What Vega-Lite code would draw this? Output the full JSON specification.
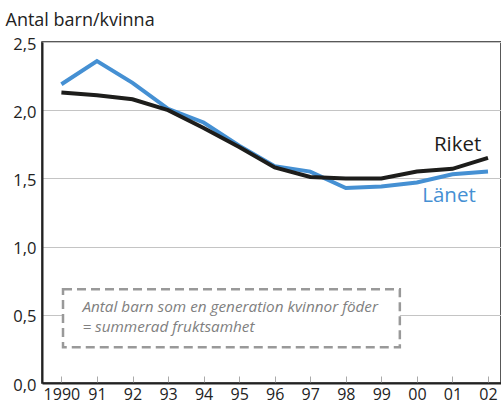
{
  "$schema": "https://vega.github.io/schema/vega-lite/v6.json",
  "width": 459,
  "height": 341,
  "autosize": {"type": "none"},
  "padding": {"left": 42, "top": 42, "right": 0, "bottom": 25},
  "background": "white",
  "config": {
    "font": "Open Sans",
    "view": {"stroke": "#222222", "strokeWidth": 1.5}
  },
  "datasets": {
    "series": [
      {"year": 1990, "region": "Länet", "value": 2.19},
      {"year": 1991, "region": "Länet", "value": 2.36},
      {"year": 1992, "region": "Länet", "value": 2.20},
      {"year": 1993, "region": "Länet", "value": 2.01},
      {"year": 1994, "region": "Länet", "value": 1.91},
      {"year": 1995, "region": "Länet", "value": 1.74},
      {"year": 1996, "region": "Länet", "value": 1.59},
      {"year": 1997, "region": "Länet", "value": 1.55},
      {"year": 1998, "region": "Länet", "value": 1.43},
      {"year": 1999, "region": "Länet", "value": 1.44},
      {"year": 2000, "region": "Länet", "value": 1.47},
      {"year": 2001, "region": "Länet", "value": 1.53},
      {"year": 2002, "region": "Länet", "value": 1.55},
      {"year": 1990, "region": "Riket", "value": 2.13},
      {"year": 1991, "region": "Riket", "value": 2.11},
      {"year": 1992, "region": "Riket", "value": 2.08},
      {"year": 1993, "region": "Riket", "value": 2.00},
      {"year": 1994, "region": "Riket", "value": 1.87},
      {"year": 1995, "region": "Riket", "value": 1.73},
      {"year": 1996, "region": "Riket", "value": 1.58},
      {"year": 1997, "region": "Riket", "value": 1.51},
      {"year": 1998, "region": "Riket", "value": 1.50},
      {"year": 1999, "region": "Riket", "value": 1.50},
      {"year": 2000, "region": "Riket", "value": 1.55},
      {"year": 2001, "region": "Riket", "value": 1.57},
      {"year": 2002, "region": "Riket", "value": 1.65}
    ],
    "box": [
      {"year": 1990.045, "year2": 1999.52, "value": 0.262, "value2": 0.688}
    ],
    "labels": [
      {"region": "Riket", "year": 2000.48, "value": 1.703},
      {"region": "Länet", "year": 2000.15, "value": 1.329}
    ],
    "note": [
      {"year": 1990.59, "value": 0.517, "text": "Antal barn som en generation kvinnor föder"},
      {"year": 1990.59, "value": 0.374, "text": "= summerad fruktsamhet"}
    ]
  },
  "encoding": {
    "x": {"field": "year", "type": "quantitative", "scale": {"domain": [1989.454, 2002.366], "nice": false, "zero": false},
      "axis": {
        "values": [1990, 1991, 1992, 1993, 1994, 1995, 1996, 1997, 1998, 1999, 2000, 2001, 2002],
        "labelExpr": "datum.value == 1990 ? '1990' : slice(format(datum.value, 'd'), 2)",
        "grid": false,
        "title": null,
        "domainColor": "#222222",
        "domainWidth": 2,
        "tickColor": "#aaaaaa",
        "tickWidth": 1,
        "tickSize": -7,
        "labelPadding": 10,
        "labelFontSize": 16,
        "labelFont": "Open Sans",
        "labelColor": "#222222",
        "labelFlush": false,
        "labelOverlap": false,
        "labelSeparation": 0
      }
    },
    "y": {"field": "value", "type": "quantitative", "scale": {"domain": [0, 2.5], "nice": false},
      "axis": {
        "values": [0, 0.5, 1, 1.5, 2, 2.5],
        "labelExpr": "replace(format(datum.value, '.1f'), '.', ',')",
        "grid": true,
        "gridColor": "#c4c4c4",
        "gridWidth": 1,
        "ticks": false,
        "domainColor": "#222222",
        "domainWidth": 2,
        "labelPadding": 6,
        "labelFontSize": 16.5,
        "labelFont": "Open Sans",
        "labelColor": "#222222",
        "labelFlush": false,
        "labelOffset": 2,
        "title": "Antal barn/kvinna",
        "titleFont": "Open Sans",
        "titleAngle": 0,
        "titleAlign": "left",
        "titleBaseline": "alphabetic",
        "titleX": -37,
        "titleY": -17,
        "titleFontSize": 18,
        "titleFontWeight": "normal",
        "titleColor": "#222222"
      }
    }
  },
  "layer": [
    {
      "data": {"name": "box"},
      "mark": {"type": "rect", "fill": "white", "stroke": "#999999", "strokeWidth": 2.5, "strokeDash": [9, 5]},
      "encoding": {
        "x2": {"field": "year2"},
        "y2": {"field": "value2"}
      }
    },
    {
      "data": {"name": "series"},
      "mark": {"type": "line", "strokeWidth": 4},
      "encoding": {
        "color": {"field": "region", "type": "nominal", "scale": {"domain": ["Länet", "Riket"], "range": ["#4590d3", "#1d1d1b"]}, "legend": null}
      }
    },
    {
      "data": {"name": "labels"},
      "mark": {"type": "text", "align": "left", "baseline": "alphabetic", "fontSize": 20.5},
      "encoding": {
        "text": {"field": "region"},
        "color": {"field": "region", "type": "nominal", "legend": null}
      }
    },
    {
      "data": {"name": "note"},
      "mark": {"type": "text", "align": "left", "baseline": "alphabetic", "fontSize": 15.3, "fontStyle": "italic", "color": "#808080"},
      "encoding": {
        "text": {"field": "text"}
      }
    }
  ]
}
